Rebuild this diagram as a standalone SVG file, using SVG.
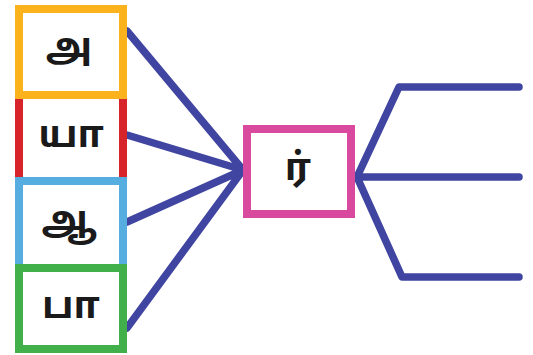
<svg xmlns="http://www.w3.org/2000/svg" width="533" height="355" viewBox="0 0 533 355">
<style>
.box{fill:#fff;stroke-width:8}
.lbl{font-family:"Noto Sans Tamil","Noto Serif Tamil","Lohit Tamil","Latha","Noto Sans",sans-serif;font-size:38px;font-weight:bold;fill:#1a1a1a;text-anchor:middle;dominant-baseline:central}
.con{fill:none;stroke:#3f45a0;stroke-width:7.5;stroke-linecap:round;stroke-linejoin:round}
</style>
<rect width="533" height="355" fill="#fff"/>
<g id="connectors">
<path class="con" d="M127 31L243 170M127 135L243 170M127 222L243 170M127 328L243 170"/>
<path class="con" d="M357 177L399 87H519M357 177H519M357 177L402 277H519"/>
</g>
<g id="node-ya">
<rect class="box" x="19" y="95" width="104" height="86" stroke="#d7232a"/>
<text class="lbl" x="71" y="137">யா</text>
</g>
<g id="node-a">
<rect class="box" x="19" y="9" width="104" height="86" stroke="#fbb21c"/>
<text class="lbl" x="69" y="49">அ</text>
</g>
<g id="node-aa">
<rect class="box" x="19" y="181" width="104" height="87" stroke="#55ade0"/>
<text class="lbl" x="69" y="222">ஆ</text>
</g>
<g id="node-paa">
<rect class="box" x="19" y="268" width="104" height="81" stroke="#41b04a"/>
<text class="lbl" x="71" y="308">பா</text>
</g>
<g id="node-r">
<rect class="box" x="247" y="129" width="104" height="85" stroke="#d94a9f"/>
<text class="lbl" x="298" y="170">ர்</text>
</g>
</svg>
